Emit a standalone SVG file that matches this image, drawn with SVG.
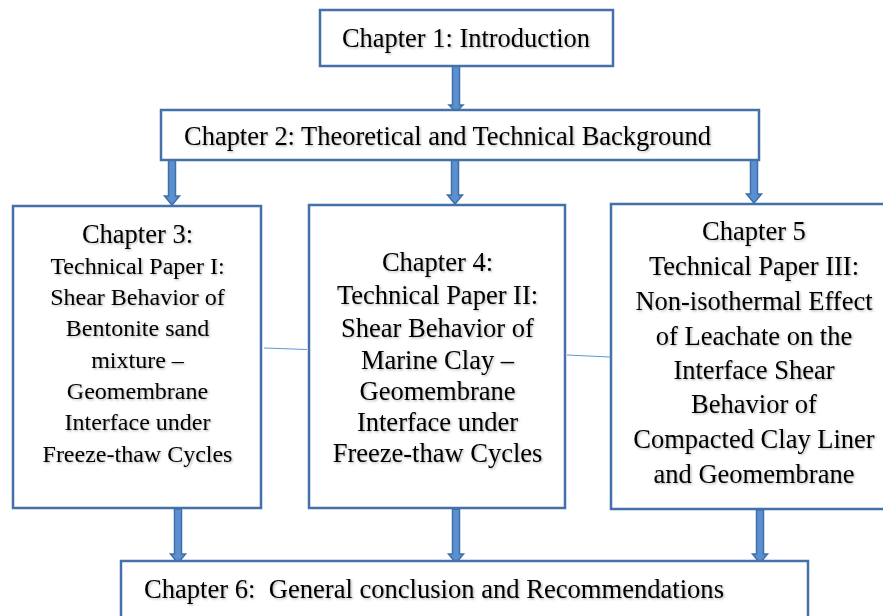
<svg xmlns="http://www.w3.org/2000/svg" width="883" height="616" viewBox="0 0 883 616">
  <defs>
    <filter id="shadow" x="-5%" y="-20%" width="110%" height="150%">
      <feDropShadow dx="1.2" dy="1.2" stdDeviation="0.8" flood-color="#000" flood-opacity="0.3"/>
    </filter>
    <style>
      .box { fill: #ffffff; stroke: #4472a8; stroke-width: 2.5; }
      .t { font-family: "Liberation Serif", "Times New Roman", serif; font-size: 26.5px; fill: #000; filter: url(#shadow); }
      .c { text-anchor: middle; }
      .s { font-size: 24px; }
      .arrow { fill: #5b8fd0; stroke: #3f6fa8; stroke-width: 1.5; stroke-linejoin: miter; }
      .thin { stroke: #5b9bd5; stroke-width: 1.2; fill: none; }
    </style>
  </defs>
  <rect width="883" height="616" fill="#ffffff"/>

  <g id="connectors">
    <path class="arrow" d="M452.5,66 L459.5,66 L459.5,105 L463,105 L456,112 L449,105 L452.5,105 Z"/>
    <path class="arrow" d="M168.5,160 L175.5,160 L175.5,196 L179.5,196 L172,205 L164.5,196 L168.5,196 Z"/>
    <path class="arrow" d="M451.5,160 L458.5,160 L458.5,195 L462.5,195 L455,204 L447.5,195 L451.5,195 Z"/>
    <path class="arrow" d="M750.5,156 L757.5,156 L757.5,194 L761.5,194 L754,203 L746.5,194 L750.5,194 Z"/>
    <path class="arrow" d="M174.5,509 L181.5,509 L181.5,554 L185.5,554 L178,563 L170.5,554 L174.5,554 Z"/>
    <path class="arrow" d="M452.5,509 L459.5,509 L459.5,554 L463.5,554 L456,563 L448.5,554 L452.5,554 Z"/>
    <path class="arrow" d="M756.5,510 L763.5,510 L763.5,554 L767.5,554 L760,563 L752.5,554 L756.5,554 Z"/>
    <line class="thin" x1="264" y1="348" x2="307" y2="349.5"/>
    <line class="thin" x1="567" y1="355" x2="610" y2="357"/>
  </g>

  <g id="ch1">
    <rect class="box" x="320" y="10" width="293" height="56"/>
    <text class="t" x="342" y="47" textLength="248" lengthAdjust="spacingAndGlyphs">Chapter 1: Introduction</text>
  </g>

  <g id="ch2">
    <rect class="box" x="161" y="110" width="598" height="50"/>
    <text class="t" x="184" y="145" textLength="527" lengthAdjust="spacingAndGlyphs">Chapter 2: Theoretical and Technical Background</text>
  </g>

  <g id="ch3">
    <rect class="box" x="13" y="206" width="248" height="302"/>
    <text class="t c" x="137.5" y="243">Chapter 3:</text>
    <text class="t c s" x="137.5" y="274">Technical Paper I:</text>
    <text class="t c s" x="137.5" y="305">Shear Behavior of</text>
    <text class="t c s" x="137.5" y="336">Bentonite sand</text>
    <text class="t c s" x="137.5" y="368">mixture –</text>
    <text class="t c s" x="137.5" y="399">Geomembrane</text>
    <text class="t c s" x="137.5" y="430">Interface under</text>
    <text class="t c s" x="137.5" y="462">Freeze-thaw Cycles</text>
  </g>

  <g id="ch4">
    <rect class="box" x="309" y="205" width="256" height="303"/>
    <text class="t c" x="437.5" y="271">Chapter 4:</text>
    <text class="t c" x="437.5" y="304">Technical Paper II:</text>
    <text class="t c" x="437.5" y="337">Shear Behavior of</text>
    <text class="t c" x="437.5" y="369">Marine Clay –</text>
    <text class="t c" x="437.5" y="400">Geomembrane</text>
    <text class="t c" x="437.5" y="431">Interface under</text>
    <text class="t c" x="437.5" y="462">Freeze-thaw Cycles</text>
  </g>

  <g id="ch5">
    <rect class="box" x="611" y="204" width="290" height="305"/>
    <text class="t c" x="754" y="240">Chapter 5</text>
    <text class="t c" x="754" y="275">Technical Paper III:</text>
    <text class="t c" x="754" y="310">Non-isothermal Effect</text>
    <text class="t c" x="754" y="345">of Leachate on the</text>
    <text class="t c" x="754" y="379">Interface Shear</text>
    <text class="t c" x="754" y="413">Behavior of</text>
    <text class="t c" x="754" y="448">Compacted Clay Liner</text>
    <text class="t c" x="754" y="483">and Geomembrane</text>
  </g>

  <g id="ch6">
    <rect class="box" x="121" y="561" width="687" height="70"/>
    <text class="t" x="144" y="598" textLength="580" lengthAdjust="spacingAndGlyphs" xml:space="preserve">Chapter 6:  General conclusion and Recommendations</text>
  </g>
</svg>
